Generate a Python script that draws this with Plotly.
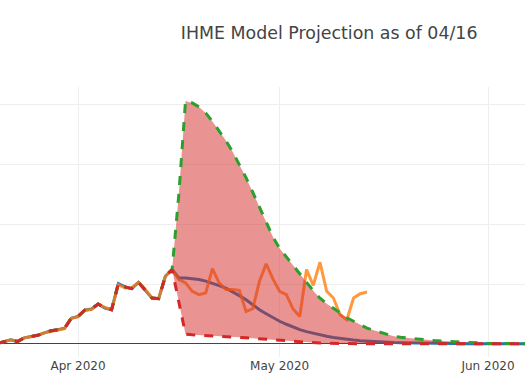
import pandas as pd
import plotly.graph_objects as go

# ---- data ----
hist_start = "2020-03-20"
ihme_hist = [8, 34, 67, 39, 101, 123, 143, 185, 218, 235, 261, 429, 459, 563, 583, 667,
             600, 571, 1008, 953, 924, 1030, 908, 768, 756, 1131, 1244]  # Mar 20 - Apr 15
observed_hist = [8, 34, 67, 45, 101, 118, 143, 185, 210, 235, 255, 429, 452, 563, 575, 667,
                 610, 571, 990, 935, 940, 1030, 915, 768, 760, 1131, 1244]

proj_start = "2020-04-16"
mean_proj = [1104, 1101, 1092, 1076, 1050, 1017, 975, 933, 874, 807, 739, 655, 571, 504, 437,
             378, 328, 277, 239, 205, 176, 151, 126, 106, 89, 76, 64, 54, 45, 37, 30, 25, 21,
             17, 14, 12, 10, 8, 7, 6, 5, 4, 3, 3, 2, 2, 2, 1, 1, 1, 1, 1, 1, 0, 0, 0]
upper_proj = [2500, 4067, 4034, 3966, 3866, 3723, 3571, 3403, 3218, 3008, 2782, 2538, 2286,
              2034, 1790, 1597, 1454, 1328, 1176, 1025, 891, 765, 672, 597, 516, 437, 378, 319,
              264, 227, 190, 156, 126, 109, 96, 84, 74, 64, 55, 47, 40, 34, 27, 22, 17, 12, 8,
              6, 5, 4, 3, 3, 2, 2, 1, 1]
lower_proj = [700, 160, 151, 146, 142, 139, 131, 124, 118, 109, 101, 92, 84, 76, 67, 57, 49,
              40, 32, 25, 18, 13, 9, 6, 4, 3, 2, 2, 1, 1, 1, 0, 0, 0, 0, 0, 0, 0, 0, 0, 0, 0,
              0, 0, 0, 0, 0, 0, 0, 0, 0, 0, 0, 0, 0, 0]
observed_proj = [1076, 1020, 879, 824, 852, 1261, 1020, 908, 908, 896, 543, 588, 1047, 1339,
                 1087, 879, 824, 583, 459, 1244, 980, 1366, 879, 768, 487, 403, 768, 840, 869]

title_text = "IHME Model Projection as of 04/16"

# ---- build ----
hist_dates = list(pd.date_range(hist_start, periods=len(ihme_hist), freq="D"))
proj_dates = list(pd.date_range(proj_start, periods=len(mean_proj), freq="D"))
obs_dates = hist_dates + list(pd.date_range(proj_start, periods=len(observed_proj), freq="D"))
all_dates = hist_dates + proj_dates

mean_all = ihme_hist + mean_proj
upper_all = ihme_hist + upper_proj
lower_all = ihme_hist + lower_proj
obs_all = observed_hist + observed_proj

fig = go.Figure()
fig.add_trace(go.Scatter(x=all_dates, y=mean_all, mode="lines",
                         line=dict(color="#1f77b4", width=3), name="Mean"))
fig.add_trace(go.Scatter(x=obs_dates, y=obs_all, mode="lines", opacity=0.8,
                         line=dict(color="#ff7f0e", width=3), name="Observed"))
fig.add_trace(go.Scatter(x=all_dates, y=upper_all, mode="lines",
                         line=dict(color="#2ca02c", width=3, dash="dash"), name="Upper"))
fig.add_trace(go.Scatter(x=all_dates, y=lower_all, mode="lines", fill="tonexty",
                         fillcolor="rgba(214,39,40,0.5)",
                         line=dict(color="#d62728", width=3, dash="dash"), name="Lower"))

fig.update_layout(
    template="none",
    width=525, height=390,
    margin=dict(l=0, r=0, t=87, b=33),
    showlegend=False,
    paper_bgcolor="white", plot_bgcolor="white",
    font=dict(family="DejaVu Sans, Verdana, sans-serif", size=12, color="#444"),
    title=dict(text=title_text, x=0.627, xanchor="center", xref="container",
               y=0.915, yanchor="middle", font=dict(size=17.4, color="#444")),
    xaxis=dict(type="date", range=["2020-03-20 09:30", "2020-06-06 12:07"],
               showgrid=True, gridcolor="#eee", tickformat="%b %Y", dtick="M1",
               zeroline=False, showline=False, ticks=""),
    yaxis=dict(range=[-220, 4300], dtick=1000, showgrid=True, gridcolor="#eee",
               zeroline=True, zerolinecolor="#444", zerolinewidth=1,
               showticklabels=False, ticks="", showline=False),
)

fig.write_html("out.html", config={"displayModeBar": False},
               post_script="document.body.style.margin='0';")
